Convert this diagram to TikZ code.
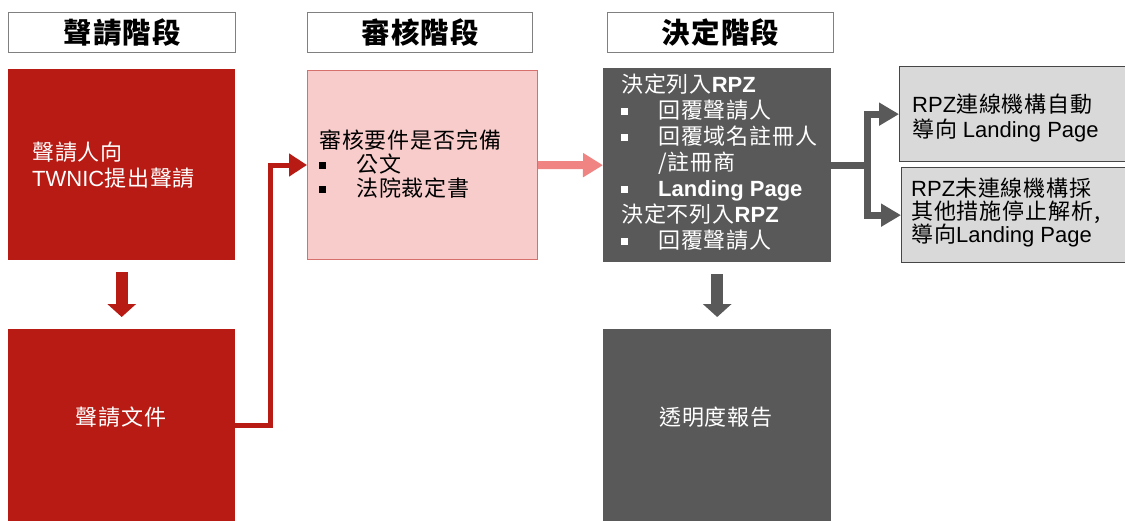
\documentclass[tikz,border=0pt]{standalone}
\usepackage{fontspec}
\setmainfont{Noto Sans CJK TC}[LetterSpace=4]
\newfontfamily\latf{Liberation Sans}
\usetikzlibrary{arrows.meta}
\definecolor{dred}{RGB}{183,27,19}
\definecolor{pinkfill}{RGB}{249,204,204}
\definecolor{pinkline}{RGB}{214,112,108}
\definecolor{pinkarrow}{RGB}{240,132,130}
\definecolor{dgray}{RGB}{89,89,89}
\definecolor{lgray}{RGB}{217,217,217}
\definecolor{gborder}{RGB}{70,70,70}
\definecolor{hborder}{RGB}{128,128,128}
\newcommand\sqb{\makebox[37pt][l]{\rule[3.5pt]{7pt}{7pt}}}
\newcommand\en[1]{{\latf #1}}
\newcommand\enb[1]{{\latf\bfseries #1}}
\begin{document}
\begin{tikzpicture}[x=1pt,y=-1pt,
  base/.style={rectangle, inner sep=0pt, anchor=north west},
  hdr/.style={base, draw=hborder, line width=1.2pt, fill=white, minimum height=40pt, font=\fontsize{28.5}{30}\bfseries\selectfont},
  redbox/.style={base, fill=dred},
  pinkbox/.style={base, fill=pinkfill, draw=pinkline, line width=1pt},
  darkbox/.style={base, fill=dgray},
  graybox/.style={base, fill=lgray, draw=gborder, line width=1.3pt},
  txt/.style={anchor=west, inner sep=0pt, align=left},
  wtxt/.style={txt, text=white},
  btxt/.style={txt, text=black},
  downred/.style={draw=dred, line width=12pt, -{Triangle[width=28pt,length=13pt]}, shorten <=12pt, shorten >=12pt},
  downdark/.style={draw=dgray, line width=12pt, -{Triangle[width=28pt,length=13pt]}, shorten <=12pt, shorten >=12pt},
  redelbow/.style={draw=dred, line width=5pt, -{Triangle[width=22pt,length=18pt]}},
  pinkarr/.style={draw=pinkarrow, line width=8pt, -{Triangle[width=23pt,length=20pt]}},
  darkline/.style={draw=dgray, line width=7pt},
  darkarr/.style={draw=dgray, line width=7pt, -{Triangle[width=22pt,length=20pt]}}
]
\useasboundingbox (0,0) rectangle (1125,520);
\clip (0,0) rectangle (1125,520);
\fill[white] (0,0) rectangle (1125,520);

% headers
\node[hdr, minimum width=227pt] (h1) at (8,12) {聲請階段};
\node[hdr, minimum width=225pt] (h2) at (307,12) {審核階段};
\node[hdr, minimum width=226pt] (h3) at (607,12) {決定階段};

% boxes
\node[redbox, minimum width=227pt, minimum height=191pt] (r1) at (8,69) {};
\node[redbox, minimum width=227pt, minimum height=192pt] (r2) at (8,329) {};
\node[pinkbox, minimum width=230pt, minimum height=189pt] (pk) at (307,70) {};
\node[darkbox, minimum width=228pt, minimum height=194pt] (dk) at (603,68) {};
\node[darkbox, minimum width=228pt, minimum height=192pt] (dk2) at (603,329) {};
\node[graybox, minimum width=240pt, minimum height=95pt] (g1) at (899,66) {};
\node[graybox, minimum width=240pt, minimum height=95pt] (g2) at (901,167) {};

% texts
\node[wtxt, font=\fontsize{22}{26}\selectfont] (t1) at (32,165) {聲請人向\\\en{TWNIC}提出聲請};
\node[wtxt, font=\fontsize{22}{26}\selectfont, anchor=center] (t2) at (121,417) {聲請文件};
\node[btxt, font=\fontsize{22}{24}\selectfont] (t3) at (319,164) {審核要件是否完備\\\sqb 公文\\\sqb 法院裁定書};
\node[wtxt, font=\fontsize{22}{26}\selectfont] (t4) at (621,162)
  {決定列入\enb{RPZ}\\\sqb 回覆聲請人\\\sqb 回覆域名註冊人\\\hspace*{37pt}/註冊商\\\sqb \enb{Landing Page}\\決定不列入\enb{RPZ}\\\sqb 回覆聲請人};
\node[wtxt, font=\fontsize{22}{26}\selectfont, anchor=center] (t5) at (716,417) {透明度報告};
\node[btxt, font=\fontsize{22}{25}\selectfont] (t6) at (912,118) {\en{RPZ}連線機構自動\\導向 \en{Landing Page}};
\node[btxt, font=\fontsize{22}{23}\selectfont] (t7) at (911,213) {\en{RPZ}未連線機構採\\其他措施停止解析,\\導向\en{Landing Page}};

% connectors
\draw[downred] (r1.south) -- (r2.north);
\draw[downdark] (dk.south) -- (dk2.north);
\draw[redelbow] (r2.east) -- ++(35,0) |- (pk.west);
\draw[pinkarr] (pk.east) -- (dk.west);
\draw[darkline] (dk.east) -- ++(36,0) coordinate (j);
\draw[darkarr] (j) |- (g1.west);
\draw[darkarr] (j) |- (g2.west);
\end{tikzpicture}
\end{document}
